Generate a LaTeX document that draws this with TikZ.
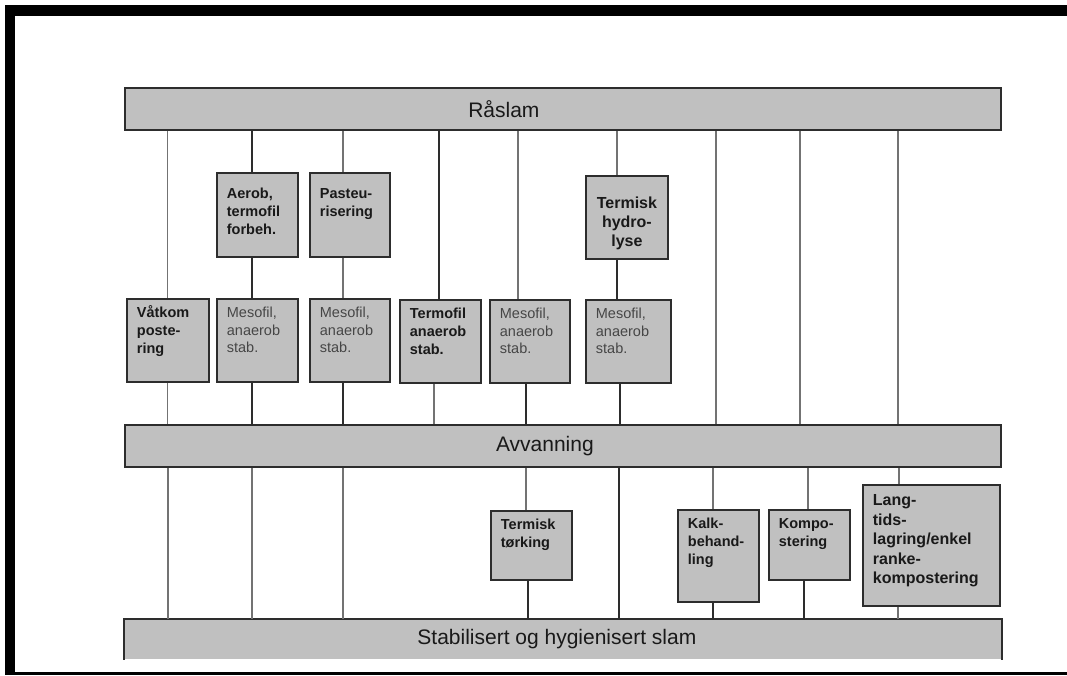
\documentclass[tikz,border=0pt]{standalone}
\usepackage{fontspec}
\setmainfont{Liberation Sans}
\usepackage{tikz}
\usetikzlibrary{positioning}
\definecolor{BoxGrey}{RGB}{192,192,192}
\definecolor{EdgeDark}{RGB}{45,45,45}
\definecolor{LinkGrey}{RGB}{115,115,115}
\definecolor{TextDark}{RGB}{25,25,25}
\definecolor{TextSoft}{RGB}{70,70,70}
% label moved left inside its bar by half of #1
\newcommand{\barlabel}[2]{\hspace*{-#1}#2}

\begin{document}
\begin{tikzpicture}[x=1pt, y=-1pt,
  bar/.style={rectangle, draw=EdgeDark, fill=BoxGrey, line width=1.8pt, anchor=north west, minimum width=876pt, minimum height=42pt, inner sep=0pt, font=\fontsize{21}{24}\selectfont, text=TextDark},
  stepbox/.style={rectangle, draw=EdgeDark, fill=BoxGrey, line width=1.8pt, anchor=north west, inner xsep=10pt, inner ysep=0pt, text height=19pt, align=left, font=\fontsize{14.5}{18}\selectfont\bfseries, text=TextDark},
  mesobox/.style={stepbox, font=\fontsize{14.5}{17.5}\selectfont, text=TextSoft},
  link/.style={line width=1.1pt, draw=LinkGrey},
  linkdark/.style={line width=1.5pt, draw=EdgeDark}
]
  \useasboundingbox (0,0) rectangle (1067,675);

  % frame
  \fill[black] (5,5) rectangle (1067,16);
  \fill[black] (5,5) rectangle (15,675);
  \fill[black] (5,672) rectangle (1067,674.5);

  % main stages
  \node[bar] (raslam) at (124,87) {\barlabel{118pt}{Råslam}};
  \node[bar] (avvann) at (124,424) {\barlabel{36pt}{Avvanning}};
  \node[bar, draw=none, minimum height=39pt] (stab) at (124,619) {\barlabel{12pt}{Stabilisert og hygienisert slam}};
  \draw[EdgeDark, line width=1.8pt] (stab.south west) -- (stab.north west) -- (stab.north east) -- (stab.south east);

  % pre-treatment
  \node[stepbox, text width=61pt, text height=26pt, text depth=58pt] (aerob) at (216,172) {Aerob,\\termofil\\forbeh.};
  \node[stepbox, text width=60pt, text height=26pt, text depth=58pt] (pasteu) at (309,172) {Pasteu-\\risering};
  \node[stepbox, text width=62pt, text height=33pt, text depth=50pt, align=center, font=\fontsize{16}{19}\selectfont\bfseries] (hydro) at (585,175) {Termisk\\hydro-\\lyse};

  % stabilisation
  \node[stepbox, text width=62pt, text depth=64pt] (vatkom) at (126,298) {Våtkom\\poste-\\ring};
  \node[mesobox, text width=61pt, text depth=64pt] (meso1) at (216,298) {Mesofil,\\anaerob\\stab.};
  \node[mesobox, text width=60pt, text depth=64pt] (meso2) at (309,298) {Mesofil,\\anaerob\\stab.};
  \node[stepbox, text width=61pt, text depth=64pt] (termofil) at (399,299) {Termofil\\anaerob\\stab.};
  \node[mesobox, text width=60pt, text depth=64pt] (meso3) at (489,299) {Mesofil,\\anaerob\\stab.};
  \node[mesobox, text width=65pt, text depth=64pt] (meso4) at (585,299) {Mesofil,\\anaerob\\stab.};

  % post-treatment
  \node[stepbox, text width=61pt, text depth=50pt] (torking) at (490,510) {Termisk\\tørking};
  \node[stepbox, text width=61pt, text depth=73pt] (kalk) at (677,509) {Kalk-\\behand-\\ling};
  \node[stepbox, text width=61pt, text depth=51pt] (kompo) at (768,509) {Kompo-\\stering};
  \node[stepbox, text width=117pt, text height=21pt, text depth=100pt, font=\fontsize{16}{19.5}\selectfont\bfseries] (lang) at (862,484) {Lang-\\tids-\\lagring/enkel\\ranke-\\kompostering};

  % Raslam -> Avvanning
  \draw[link] (raslam.south -| vatkom.north) -- (vatkom.north);
  \draw[link] (vatkom.south) -- (vatkom.south |- avvann.north);
  \draw[linkdark] (raslam.south -| 252,0) -- (aerob.north -| 252,0);
  \draw[linkdark] (aerob.south -| 252,0) -- (meso1.north -| 252,0);
  \draw[linkdark] (meso1.south -| 252,0) -- (avvann.north -| 252,0);
  \draw[link] (raslam.south -| 343,0) -- (pasteu.north -| 343,0);
  \draw[link] (pasteu.south -| 343,0) -- (meso2.north -| 343,0);
  \draw[linkdark] (meso2.south -| 343,0) -- (avvann.north -| 343,0);
  \draw[linkdark] (raslam.south -| 439,0) -- (termofil.north -| 439,0);
  \draw[link] (termofil.south -| 434,0) -- (avvann.north -| 434,0);
  \draw[link] (raslam.south -| 518,0) -- (meso3.north -| 518,0);
  \draw[linkdark] (meso3.south -| 526,0) -- (avvann.north -| 526,0);
  \draw[link] (raslam.south -| 617,0) -- (hydro.north -| 617,0);
  \draw[linkdark] (hydro.south -| 617,0) -- (meso4.north -| 617,0);
  \draw[linkdark] (meso4.south -| 620,0) -- (avvann.north -| 620,0);
  \draw[link] (raslam.south -| 716,0) -- (avvann.north -| 716,0);
  \draw[link] (raslam.south -| 800,0) -- (avvann.north -| 800,0);
  \draw[link] (raslam.south -| 898,0) -- (avvann.north -| 898,0);

  % Avvanning -> slam
  \draw[link] (avvann.south -| 168,0) -- (stab.north -| 168,0);
  \draw[link] (avvann.south -| 252,0) -- (stab.north -| 252,0);
  \draw[link] (avvann.south -| 343,0) -- (stab.north -| 343,0);
  \draw[link] (avvann.south -| 526,0) -- (torking.north -| 526,0);
  \draw[linkdark] (torking.south -| 528,0) -- (stab.north -| 528,0);
  \draw[linkdark] (avvann.south -| 619,0) -- (stab.north -| 619,0);
  \draw[link] (avvann.south -| 713,0) -- (kalk.north -| 713,0);
  \draw[linkdark] (kalk.south -| 713,0) -- (stab.north -| 713,0);
  \draw[link] (avvann.south -| 808,0) -- (kompo.north -| 808,0);
  \draw[linkdark] (kompo.south -| 804,0) -- (stab.north -| 804,0);
  \draw[link] (avvann.south -| 899,0) -- (lang.north -| 899,0);
  \draw[link] (lang.south -| 898,0) -- (stab.north -| 898,0);
\end{tikzpicture}
\end{document}
